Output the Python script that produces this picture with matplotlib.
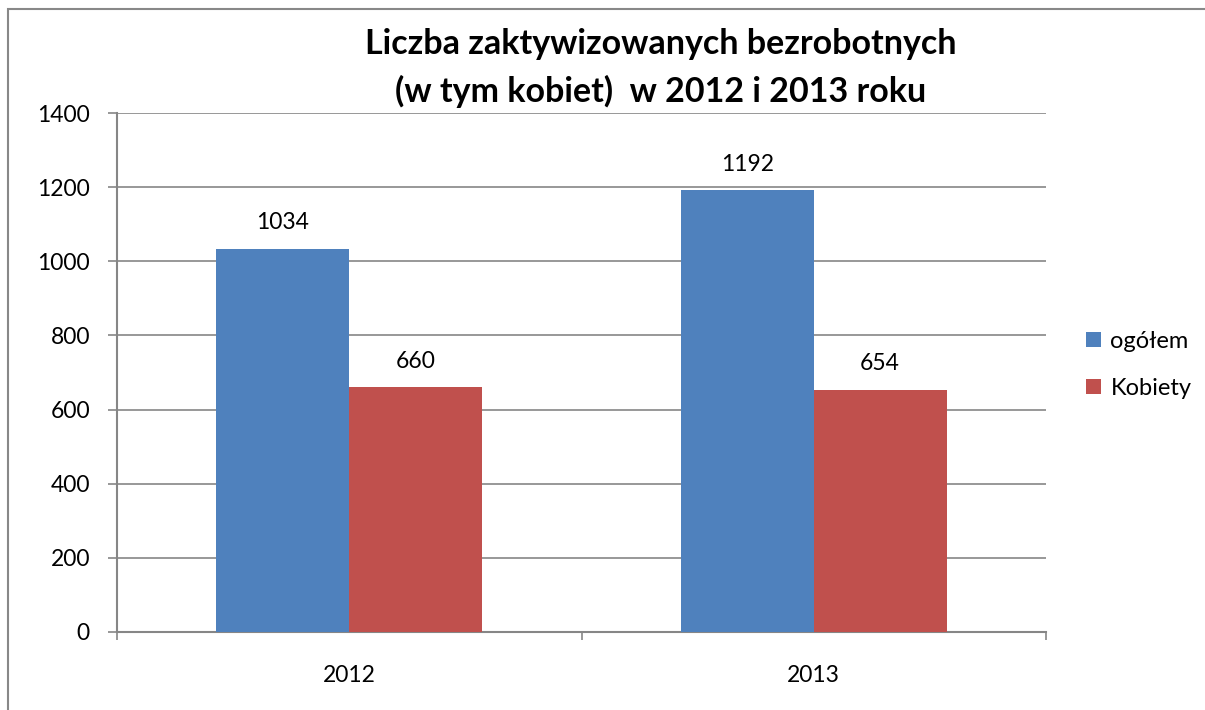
import matplotlib.pyplot as plt
import numpy as np
from matplotlib.patches import Rectangle

plt.rcParams['font.family'] = ['Lato', 'DejaVu Sans']

years = ['2012', '2013']
ogolem = [1034, 1192]
kobiety = [660, 654]
series_names = ['ogółem', 'Kobiety']
colors = ['#4f81bd', '#c0504d']
grid_color = '#868686'

fig = plt.figure(figsize=(12.05, 7.1), dpi=100)
ax = fig.add_axes([117 / 1205, 78 / 710, 929 / 1205, 519 / 710])

# outer chart border (only top and left visible in the crop)
fig.patches.append(Rectangle((8 / 1205, -0.1), 1.2, 701 / 710 + 0.1,
                             transform=fig.transFigure, fill=False,
                             edgecolor='#888888', linewidth=1.5))

x = np.arange(len(years))
w = 0.286
b1 = ax.bar(x - w / 2, ogolem, w, color=colors[0], label=series_names[0], zorder=3)
b2 = ax.bar(x + w / 2, kobiety, w, color=colors[1], label=series_names[1], zorder=3)

for bars, vals in ((b1, ogolem), (b2, kobiety)):
    for rect, v in zip(bars, vals):
        ax.annotate(str(v), (rect.get_x() + rect.get_width() / 2, v),
                    xytext=(0, 11), textcoords='offset points',
                    ha='center', va='bottom', fontsize=16.5)

ax.set_xlim(-0.5, 1.5)
ax.set_ylim(0, 1400)
ax.set_yticks(range(0, 1401, 200))
ax.yaxis.grid(True, color=grid_color, linewidth=1.2, zorder=0)

# category labels centred, tick marks at category boundaries
ax.set_xticks([-0.5, 0.5, 1.5])
ax.set_xticklabels([])
ax.set_xticks(x, minor=True)
ax.set_xticklabels(years, minor=True, fontsize=16.5)
ax.tick_params(axis='x', which='minor', length=0, pad=24)
ax.tick_params(axis='x', which='major', length=6, width=1.2, color=grid_color)
ax.tick_params(axis='y', length=6.5, width=1.2, color=grid_color, labelsize=16.5, pad=13)

for s in ('top', 'right'):
    ax.spines[s].set_visible(False)
for s in ('left', 'bottom'):
    ax.spines[s].set_color(grid_color)
    ax.spines[s].set_linewidth(1.5)

ax.set_title('Liczba zaktywizowanych bezrobotnych\n(w tym kobiet)  w 2012 i 2013 roku',
             fontsize=24.5, fontweight='bold', pad=8, linespacing=1.55, x=0.585)

ax.legend(loc='center left', bbox_to_anchor=(1.03, 0.515), frameon=False,
          fontsize=17, handlelength=0.65, handleheight=0.65, handletextpad=0.4,
          labelspacing=1.1, borderpad=0)

fig.savefig('out.png', dpi=100)
